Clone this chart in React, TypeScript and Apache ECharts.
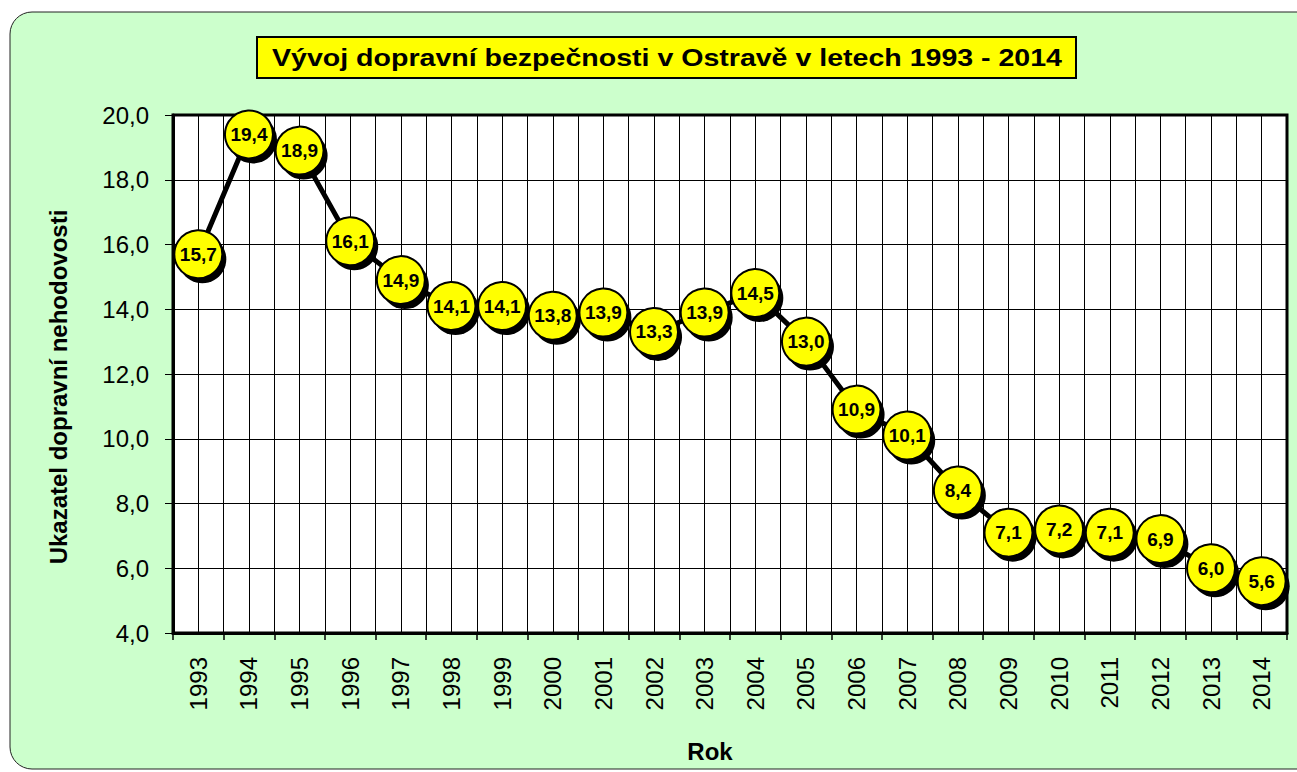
import React, { useEffect, useRef } from "react";
import * as echarts from "echarts";

const years = ["1993","1994","1995","1996","1997","1998","1999","2000","2001","2002","2003","2004","2005","2006","2007","2008","2009","2010","2011","2012","2013","2014"];
const values = [15.7, 19.4, 18.9, 16.1, 14.9, 14.1, 14.1, 13.8, 13.9, 13.3, 13.9, 14.5, 13.0, 10.9, 10.1, 8.4, 7.1, 7.2, 7.1, 6.9, 6.0, 5.6];
const titleText = "Vývoj dopravní bezpečnosti v Ostravě v letech 1993 - 2014";
const yName = "Ukazatel dopravní nehodovosti";
const xName = "Rok";
const yMin = 4;
const yMax = 20;
const yStep = 2;

const FONT = "'Liberation Sans', Arial, sans-serif";
const fmt = (v: number) => v.toFixed(1).replace(".", ",");

export default function App() {
  const ref = useRef<HTMLDivElement>(null);
  useEffect(() => {
    if (!ref.current) return;
    const chart = echarts.init(ref.current, null, { renderer: "svg" });
    chart.setOption({
      animation: false,
      backgroundColor: "#ffffff",
      graphic: [
        {
          type: "rect",
          z: -10,
          silent: true,
          shape: { x: 10, y: 12, width: 1330, height: 757, r: 22 },
          style: { fill: "#CCFFCC", stroke: "#222", lineWidth: 1 },
        },
        {
          type: "rect",
          z: 10,
          shape: { x: 257, y: 37, width: 819, height: 41 },
          style: { fill: "#FFFF00", stroke: "#000", lineWidth: 2 },
        },
        {
          type: "text",
          z: 11,
          x: 667,
          y: 58,
          scaleX: 1.19,
          style: {
            text: titleText,
            fill: "#000",
            font: "bold 24px 'Liberation Sans', Arial, sans-serif",
            textAlign: "center",
            textVerticalAlign: "middle",
          },
        },
      ],
      grid: {
        left: 173,
        right: 10,
        top: 115,
        bottom: 139,
        show: true,
        backgroundColor: "#ffffff",
        borderColor: "#000",
        borderWidth: 3,
      },
      xAxis: [
        {
          type: "category",
          data: years,
          boundaryGap: true,
          name: xName,
          nameLocation: "middle",
          nameGap: 106,
          nameTextStyle: { fontFamily: FONT, fontWeight: "bold", fontSize: 24, color: "#000", padding: [0, 40, 0, 0] },
          axisLine: { show: true, lineStyle: { color: "#000", width: 3 } },
          axisTick: { show: true, length: 7, lineStyle: { color: "#000", width: 1.5 } },
          axisLabel: { rotate: 90, margin: 24, fontFamily: FONT, fontSize: 24, color: "#000" },
          splitLine: { show: false },
        },
        {
          type: "value",
          min: 0,
          max: 44,
          interval: 1,
          show: true,
          axisLine: { show: false },
          axisTick: { show: false },
          axisLabel: { show: false },
          splitLine: { show: true, lineStyle: { color: "#000", width: 1 } },
        },
      ],
      yAxis: {
        type: "value",
        min: yMin,
        max: yMax,
        interval: yStep,
        name: yName,
        nameLocation: "middle",
        nameGap: 103,
        nameTextStyle: { fontFamily: FONT, fontWeight: "bold", fontSize: 24, color: "#000", padding: [0, 26, 0, 0] },
        axisLine: { show: true, lineStyle: { color: "#000", width: 3 } },
        axisTick: { show: true, length: 8, lineStyle: { color: "#000", width: 1 } },
        axisLabel: { margin: 24, fontFamily: FONT, fontSize: 24, color: "#000", formatter: (v: number) => fmt(v) },
        splitLine: { show: true, lineStyle: { color: "#000", width: 1 } },
      },
      series: [
        {
          type: "line",
          data: values,
          xAxisIndex: 0,
          symbol: "none",
          lineStyle: { color: "#000", width: 5 },
          z: 3,
        },
        {
          type: "scatter",
          data: values,
          xAxisIndex: 0,
          symbolSize: 48,
          symbolOffset: [4, 5],
          itemStyle: { color: "#000", opacity: 1 },
          z: 4,
          silent: true,
        },
        {
          type: "scatter",
          data: values,
          xAxisIndex: 0,
          symbolSize: 48,
          itemStyle: { color: "#FFFF00", borderColor: "#000", borderWidth: 2, opacity: 1 },
          label: {
            show: true,
            position: "inside",
            formatter: (p: any) => fmt(p.value),
            fontFamily: FONT,
            fontWeight: "bold",
            fontSize: 19,
            color: "#000",
          },
          z: 5,
        },
      ],
    });
    return () => chart.dispose();
  }, []);
  return (
    <div
      ref={ref}
      style={{ position: "absolute", left: 0, top: 0, width: 1297, height: 772 }}
    />
  );
}
